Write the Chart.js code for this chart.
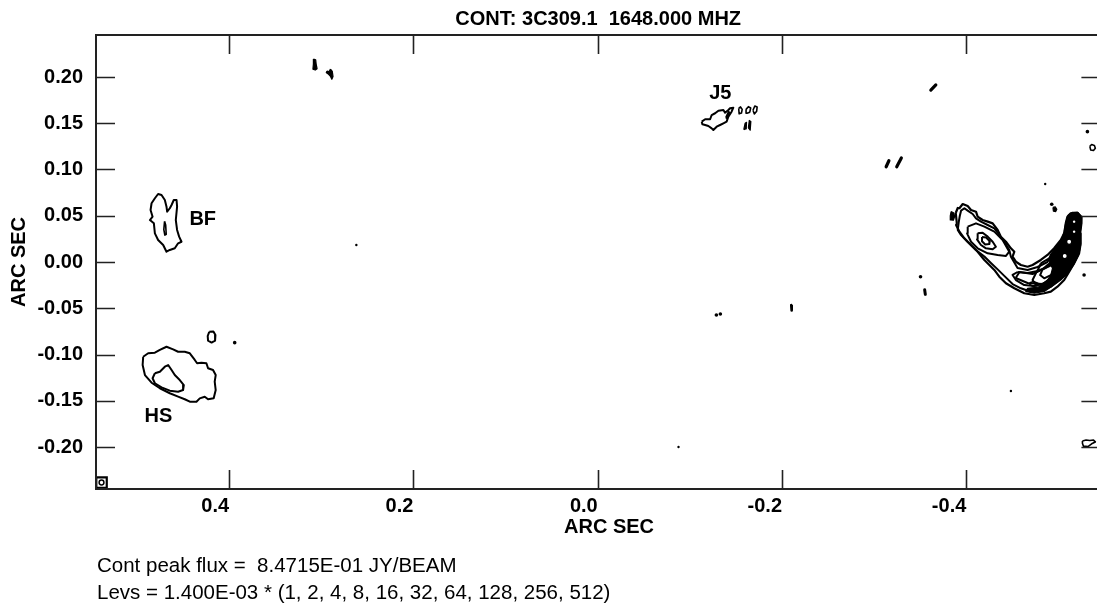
<!DOCTYPE html>
<html>
<head>
<meta charset="utf-8">
<script src="https://cdn.jsdelivr.net/npm/chart.js@4.4.1/dist/chart.umd.min.js"></script>
<style>
  html, body { margin: 0; padding: 0; background: #fff; overflow: hidden; }
  #wrap { width: 1110px; height: 604px; }
</style>
</head>
<body>
<div id="wrap"><canvas id="map"></canvas></div>
<script>
// axis ticks, arc sec
const xTicks = [0.4, 0.2, 0.0, -0.2, -0.4];
const yTicks = [0.20, 0.15, 0.10, 0.05, 0.00, -0.05, -0.10, -0.15, -0.20];

const titleText = "CONT: 3C309.1  1648.000 MHZ";
const axisTitle = "ARC SEC";
const peakText = "Cont peak flux =  8.4715E-01 JY/BEAM";
const levsText = "Levs = 1.400E-03 * (1, 2, 4, 8, 16, 32, 64, 128, 256, 512)";

// component names and where they sit
const labelNames = ["BF", "HS", "J5"];
const labelX = [0.4286, 0.4767, -0.1331];
const labelY = [0.0481, -0.1649, 0.1843];

// contours, [ra offset, dec offset] in arc sec
const bfOuter = [[.4805,.0689],[.4841,.0635],[.4852,.0562],[.4830,.0490],[.4859,.0454],[.4816,.0418],[.4805,.0310],[.4770,.0238],[.4715,.0184],[.4679,.0111],[.4643,.0130],[.4589,.0148],[.4553,.0202],[.4516,.0219],[.4542,.0274],[.4564,.0346],[.4578,.0454],[.4564,.0598],[.4570,.0670],[.4600,.0670],[.4624,.0616],[.4643,.0581],[.4672,.0544],[.4679,.0598],[.4697,.0670],[.4733,.0724],[.4770,.0735]];
const bfInner = [[.4700,.0440],[.4688,.0400],[.4682,.0300],[.4697,.0290],[.4708,.0350]];

const hsOuter = [[.4932,-.1024],[.4878,-.0987],[.4805,-.0981],[.4751,-.0951],[.4679,-.0916],[.4607,-.0944],[.4553,-.0970],[.4481,-.0970],[.4426,-.0987],[.4372,-.1059],[.4347,-.1095],[.4300,-.1089],[.4246,-.1095],[.4228,-.1149],[.4174,-.1168],[.4145,-.1222],[.4156,-.1294],[.4145,-.1384],[.4167,-.1474],[.4228,-.1484],[.4264,-.1456],[.4318,-.1474],[.4354,-.1510],[.4426,-.1510],[.4481,-.1484],[.4553,-.1456],[.4643,-.1419],[.4751,-.1365],[.4841,-.1305],[.4913,-.1222],[.4938,-.1114]];
const hsInner = [[.4805,-.1203],[.4751,-.1186],[.4697,-.1132],[.4661,-.1114],[.4624,-.1168],[.4589,-.1222],[.4535,-.1276],[.4491,-.1330],[.4499,-.1384],[.4553,-.1402],[.4643,-.1391],[.4733,-.1355],[.4805,-.1311],[.4830,-.1257]];
const hsSmall = [[.4215,-.0755],[.4170,-.0752],[.4148,-.0790],[.4152,-.0850],[.4190,-.0871],[.4228,-.0850],[.4232,-.0800]];

const j5Outer = [[-.1129,.1517],[-.1166,.1543],[-.1220,.1543],[-.1237,.1589],[-.1274,.1608],[-.1310,.1636],[-.1364,.1643],[-.1382,.1614],[-.1418,.1643],[-.1436,.1662],[-.1472,.1668],[-.1453,.1625],[-.1418,.1571],[-.1399,.1517],[-.1364,.1499],[-.1328,.1481],[-.1291,.1463],[-.1255,.1427],[-.1237,.1445],[-.1201,.1470],[-.1166,.1481],[-.1136,.1489]];
const j5Inner = [[-.1390,.1560],[-.1420,.1625],[-.1432,.1618],[-.1402,.1552]];
const j5LoopA = [[-.1530,.1660],[-.1550,.1676],[-.1568,.1650],[-.1560,.1610],[-.1535,.1602]];
const j5LoopB = [[-.1610,.1650],[-.1635,.1679],[-.1660,.1665],[-.1650,.1620],[-.1620,.1608]];
const j5LoopC = [[-.1685,.1640],[-.1705,.1686],[-.1730,.1675],[-.1725,.1630],[-.1700,.1600]];

const jetOuter = [[-.3885,.0530],[-.3907,.0584],[-.3925,.0581],[-.3961,.0627],[-.4015,.0605],[-.4051,.0562],[-.4105,.0544],[-.4123,.0490],[-.4177,.0454],[-.4232,.0436],[-.4286,.0418],[-.4340,.0346],[-.4375,.0274],[-.4430,.0219],[-.4484,.0148],[-.4521,.0111],[-.4502,.0057],[-.4538,.0003],[-.4592,-.0032],[-.4665,-.0051],[-.4719,-.0032],[-.4808,.0022],[-.4881,.0076],[-.4953,.0148],[-.5025,.0238],[-.5062,.0310],[-.5079,.0418],[-.5097,.0490],[-.5133,.0526],[-.5206,.0533],[-.5249,.0490],[-.5249,.0418],[-.5235,.0310],[-.5241,.0202],[-.5224,.0094],[-.5170,-.0014],[-.5116,-.0105],[-.5062,-.0195],[-.4989,-.0267],[-.4917,-.0321],[-.4845,-.0338],[-.4737,-.0357],[-.4629,-.0338],[-.4521,-.0284],[-.4430,-.0230],[-.4358,-.0159],[-.4304,-.0086],[-.4250,-.0032],[-.4196,.0022],[-.4123,.0111],[-.4051,.0184],[-.3979,.0256],[-.3925,.0328],[-.3889,.0400],[-.3896,.0432]];
const jetSecond = [[-.3929,.0497],[-.3943,.0555],[-.3979,.0581],[-.4015,.0555],[-.4069,.0519],[-.4105,.0472],[-.4159,.0436],[-.4232,.0400],[-.4304,.0364],[-.4358,.0292],[-.4412,.0219],[-.4466,.0130],[-.4484,.0057],[-.4556,-.0065],[-.4665,-.0086],[-.4773,-.0054],[-.4880,.0000],[-.4935,.0100],[-.5008,.0190],[-.5080,.0310],[-.5095,.0418],[-.5130,.0480],[-.5198,.0508],[-.5227,.0462],[-.5216,.0310],[-.5213,.0165],[-.5170,.0022],[-.5097,-.0086],[-.5025,-.0176],[-.4917,-.0267],[-.4808,-.0303],[-.4700,-.0321],[-.4592,-.0284],[-.4502,-.0238],[-.4412,-.0150],[-.4340,-.0080],[-.4267,-.0010],[-.4196,.0060],[-.4105,.0130],[-.4015,.0215],[-.3943,.0290],[-.3907,.0346],[-.3918,.0432]];
const jetThird = [[-.4535,-.0173],[-.4665,-.0227],[-.4827,-.0238],[-.4968,-.0151],[-.5076,-.0032],[-.5152,.0130],[-.5184,.0292],[-.5184,.0454],[-.5130,.0476],[-.5097,.0368],[-.5054,.0184],[-.4968,.0043],[-.4859,-.0065],[-.4719,-.0130],[-.4578,-.0108]];
const lobeRing1 = [[-.4015,.0382],[-.4105,.0418],[-.4196,.0382],[-.4304,.0328],[-.4394,.0238],[-.4466,.0111],[-.4430,.0065],[-.4340,.0076],[-.4232,.0094],[-.4123,.0148],[-.4051,.0219],[-.4008,.0310]];
const lobeRing2 = [[-.4123,.0310],[-.4177,.0317],[-.4232,.0274],[-.4286,.0219],[-.4321,.0165],[-.4286,.0137],[-.4213,.0148],[-.4159,.0184],[-.4116,.0245]];
const lobeRing3 = [[-.4170,.0270],[-.4215,.0265],[-.4255,.0225],[-.4250,.0195],[-.4205,.0190],[-.4170,.0225]];
const bendRing = [[-.4556,-.0108],[-.4665,-.0119],[-.4773,-.0097],[-.4881,-.0054],[-.4953,-.0019],[-.4989,-.0080],[-.4953,-.0159],[-.4845,-.0230],[-.4737,-.0259],[-.4629,-.0249],[-.4538,-.0195],[-.4502,-.0140]];
const bendSmall = [[-.4690,-.0225],[-.4730,-.0212],[-.4775,-.0230],[-.4770,-.0255],[-.4725,-.0262],[-.4690,-.0245]];
const coreRing1 = [[-.4808,-.0014],[-.4899,.0040],[-.4971,.0111],[-.5025,.0165],[-.5062,.0148],[-.5043,.0022],[-.5008,-.0086],[-.4935,-.0176],[-.4845,-.0238],[-.4755,-.0249],[-.4719,-.0195],[-.4755,-.0122],[-.4791,-.0057]];
const coreRing2 = [[-.4881,-.0032],[-.4953,.0022],[-.5008,.0076],[-.5025,.0022],[-.4989,-.0068],[-.4917,-.0141],[-.4845,-.0176],[-.4801,-.0141],[-.4827,-.0079]];
const coreFill = [[-.5105,.0508],[-.5152,.0537],[-.5213,.0533],[-.5252,.0483],[-.5249,.0400],[-.5231,.0292],[-.5241,.0184],[-.5220,.0076],[-.5170,-.0022],[-.5105,-.0116],[-.5025,-.0195],[-.4935,-.0259],[-.4845,-.0318],[-.4737,-.0338],[-.4645,-.0318],[-.4665,-.0285],[-.4780,-.0272],[-.4881,-.0195],[-.4917,-.0141],[-.4935,-.0068],[-.4899,.0003],[-.4910,.0076],[-.4971,.0148],[-.5032,.0238],[-.5062,.0328],[-.5079,.0425]];
const coreHoles = [[-.5068,.0065],[-.5116,.0219]];
const coreSpecks = [[-.5170,.0328],[-.5170,.0436]];
const edgeLoop = [[-.5340,.1250],[-.5360,.1270],[-.5390,.1260],[-.5400,.1230],[-.5380,.1205],[-.5350,.1210]];
const edgeCluster = [[-.5260,-.1935],[-.5300,-.1925],[-.5340,-.1930],[-.5380,-.1925],[-.5400,-.1945],[-.5360,-.1965],[-.5320,-.1995],[-.5270,-.1990],[-.5260,-.1960]];

// small solid islands
const blobA = [[.3085,.2195],[.3060,.2185],[.3055,.2140],[.3045,.2090],[.3065,.2075],[.3090,.2085],[.3085,.2140]];
const blobB = [[.2900,.2085],[.2880,.2060],[.2872,.2005],[.2885,.1975],[.2902,.2010],[.2925,.2035]];
const j5BlobL = [[-.1585,.1430],[-.1600,.1500],[-.1615,.1510],[-.1612,.1440]];
const j5BlobR = [[-.1635,.1450],[-.1645,.1530],[-.1662,.1520],[-.1655,.1425]];
const jetTipBlob = [[-.3835,.0546],[-.3865,.0530],[-.3873,.0490],[-.3860,.0452],[-.3832,.0455],[-.3826,.0500]];
const nearCoreBlob = [[-.4940,.0590],[-.4965,.0595],[-.4982,.0570],[-.4970,.0545],[-.4945,.0550]];

// short dashes
const dash1 = [[-.3130,.1030],[-.3160,.1095]];
const dash2 = [[-.3245,.1030],[-.3295,.1125]];
const dash3 = [[-.3615,.1859],[-.3669,.1914]];
const dash4 = [[-.2100,-.0465],[-.2105,-.0525]];
const dash5 = [[-.3548,-.0300],[-.3555,-.0350]];

// single-pixel islands
const dots = [[.3939,-.0872],[-.1288,-.0573],[-.1331,-.0562],[-.3503,-.0159],[-.4927,.0624],[-.5278,-.0141],[-.5314,.1409],[.2930,.2050]];
const tinyDots = [[.2619,.0184],[-.0877,-.2000],[-.4856,.0843],[-.4484,-.1395]];

const beamPos = [[.5384,-.2384]];

const FONT = '"Liberation Sans", Arial, Helvetica, sans-serif';
const toPts = arr => arr.map(p => ({ x: p[0], y: p[1] }));
const closed = arr => toPts(arr.concat([arr[0]]));

function contour(arr, w) {
  return { data: closed(arr), showLine: true, borderColor: "#000", borderWidth: w || 2,
           borderJoinStyle: "round", pointRadius: 0, fill: false, order: 2 };
}
function blob(arr, order) {
  return { data: closed(arr), showLine: true, borderColor: "#000", backgroundColor: "#000",
           borderWidth: 1.2, borderJoinStyle: "round", pointRadius: 0, fill: "shape", order: order || 2 };
}
function dash(arr, w) {
  return { data: toPts(arr), showLine: true, borderColor: "#000", borderWidth: w,
           borderCapStyle: "round", pointRadius: 0, fill: false, order: 2 };
}
function spots(arr, r, fillCol, edge, edgeW, style, order) {
  return { data: toPts(arr), showLine: false, pointRadius: r, pointStyle: style || "circle",
           pointBackgroundColor: fillCol, pointBorderColor: edge, pointBorderWidth: edgeW, order: order || 2 };
}

const datasets = [
  spots(coreHoles, 2.6, "#fff", "#000", 1.4, "circle", 1),
  spots(coreSpecks, 1.2, "#fff", "#fff", 0, "circle", 1),
  spots(beamPos, 2.4, "#fff", "#000", 1.5, "circle", 1),
  spots(beamPos, 7.4, "#fff", "#000", 2.2, "rect", 2),
  contour(bfOuter), contour(bfInner, 1.6),
  contour(hsOuter), contour(hsInner), contour(hsSmall),
  contour(j5Outer), contour(j5Inner, 1.6), contour(j5LoopA, 1.6), contour(j5LoopB, 1.6), contour(j5LoopC, 1.6),
  contour(jetOuter, 2.2), contour(jetSecond), contour(jetThird), contour(lobeRing1), contour(lobeRing2), contour(lobeRing3),
  contour(bendRing), contour(bendSmall, 1.6), contour(coreRing1), contour(coreRing2),
  contour(edgeLoop, 1.6), contour(edgeCluster, 1.6),
  blob(blobA), blob(blobB), blob(j5BlobL), blob(j5BlobR), blob(jetTipBlob), blob(nearCoreBlob),
  blob(coreFill, 3),
  dash(dash1, 3.2), dash(dash2, 3.2), dash(dash3, 3.2), dash(dash4, 2.6), dash(dash5, 3),
  spots(dots, 1.8, "#000", "#000", 0),
  spots(tinyDots, 1.2, "#000", "#000", 0)
];

const frame = {
  id: "frame",
  afterDraw(chart) {
    const { ctx, chartArea: a, scales: { x, y } } = chart;
    ctx.save();
    ctx.strokeStyle = "#222";
    ctx.lineWidth = 2;
    ctx.strokeRect(a.left, a.top, a.right - a.left, a.bottom - a.top);
    ctx.lineWidth = 1.6;
    ctx.beginPath();
    xTicks.forEach(v => {
      const px = Math.round(x.getPixelForValue(v)) + 0.5;
      ctx.moveTo(px, a.bottom); ctx.lineTo(px, a.bottom - 19);
      ctx.moveTo(px, a.top); ctx.lineTo(px, a.top + 19);
    });
    yTicks.forEach(v => {
      const py = Math.round(y.getPixelForValue(v)) + 0.5;
      ctx.moveTo(a.left, py); ctx.lineTo(a.left + 19, py);
      ctx.moveTo(a.right, py); ctx.lineTo(a.right - 19, py);
    });
    ctx.stroke();

    ctx.fillStyle = "#000";
    ctx.font = "bold 20px " + FONT;
    ctx.textAlign = "center";
    ctx.textBaseline = "alphabetic";
    labelNames.forEach((t, i) => {
      ctx.fillText(t, x.getPixelForValue(labelX[i]), y.getPixelForValue(labelY[i]) + 7);
    });
    ctx.fillText(titleText, (a.left + a.right) / 2, 25);
    ctx.fillText(axisTitle, 609, 533);
    ctx.save();
    ctx.translate(25, (a.top + a.bottom) / 2);
    ctx.rotate(-Math.PI / 2);
    ctx.fillText(axisTitle, 0, 0);
    ctx.restore();

    ctx.font = "20.5px " + FONT;
    ctx.textAlign = "left";
    ctx.fillText(peakText, a.left + 1, 572);
    ctx.fillText(levsText, a.left + 1, 599);
    ctx.restore();
  }
};

const tickFont = { family: FONT, size: 20, weight: "bold" };

new Chart(document.getElementById("map").getContext("2d"), {
  type: "scatter",
  data: { datasets: datasets },
  options: {
    responsive: true,
    maintainAspectRatio: false,
    animation: false,
    layout: { padding: { top: 35, right: 7, left: 0, bottom: 0 } },
    plugins: { legend: { display: false }, tooltip: { enabled: false }, title: { display: false } },
    scales: {
      x: {
        type: "linear",
        reverse: true,
        min: -0.5455,
        max: 0.5444,
        afterFit: s => { s.height = 115; },
        afterBuildTicks: s => { s.ticks = xTicks.map(v => ({ value: v })); },
        grid: { display: false, drawTicks: false },
        border: { display: false },
        ticks: {
          align: "end", padding: 5, maxRotation: 0, minRotation: 0, autoSkip: false,
          color: "#000", font: tickFont, callback: v => Number(v).toFixed(1)
        }
      },
      y: {
        type: "linear",
        min: -0.2454,
        max: 0.2454,
        afterFit: s => { s.width = 96; },
        afterBuildTicks: s => { s.ticks = yTicks.map(v => ({ value: v })); },
        grid: { display: false, drawTicks: false },
        border: { display: false },
        ticks: {
          padding: 13, autoSkip: false, color: "#000", font: tickFont,
          callback: v => Number(v).toFixed(2)
        }
      }
    }
  },
  plugins: [frame]
});
</script>
</body>
</html>
